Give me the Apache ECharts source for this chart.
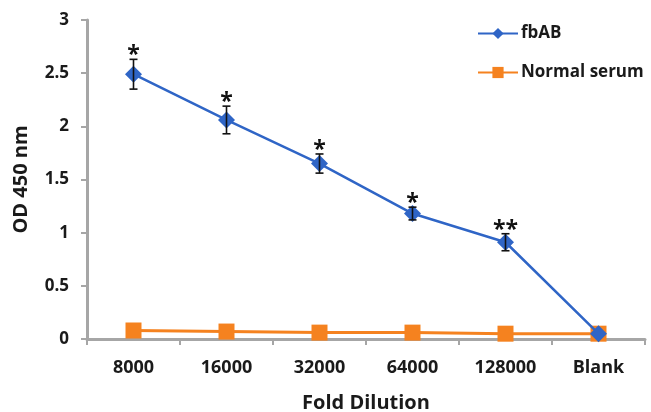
<!DOCTYPE html>
<html>
<head>
<meta charset="utf-8">
<script src="https://cdn.jsdelivr.net/npm/echarts@6/dist/echarts.min.js"></script>
<style>
  html, body { margin: 0; padding: 0; background: #fff; }
  #chart { width: 651px; height: 412px; }
</style>
</head>
<body>
<div id="chart"></div>
<script>
const categories = ["8000", "16000", "32000", "64000", "128000", "Blank"];
const fbAB = [2.49, 2.06, 1.65, 1.18, 0.91, 0.05];
const fbABErr = [0.14, 0.13, 0.09, 0.06, 0.08, 0];
const normalSerum = [0.08, 0.07, 0.06, 0.06, 0.05, 0.05];
const stars = ["*", "*", "*", "*", "**", ""];

const fontFamily = "'Open Sans', sans-serif";
const textColor = "#1a1a1a";
const axisColor = "#a6a6a6";
const blue = "#2f65c6";
const orange = "#f5821f";

const errData = categories.map((c, i) => [i, fbAB[i], fbABErr[i]]);

const mychart = echarts.init(document.getElementById("chart"));

mychart.setOption({
  animation: false,
  grid: { left: 87, right: 6, top: 20, bottom: 73, containLabel: false, outerBoundsMode: "none" },
  legend: {
    orient: "vertical",
    left: 472,
    top: 20,
    itemWidth: 40,
    itemHeight: 14,
    itemGap: 22,
    data: ["fbAB", "Normal serum"],
    textStyle: { fontFamily, fontSize: 17, fontWeight: "bold", color: textColor, padding: [0, 0, 0, -2] }
  },
  xAxis: {
    type: "category",
    data: categories,
    boundaryGap: true,
    name: "Fold Dilution",
    nameLocation: "middle",
    nameGap: 54,
    nameTextStyle: { fontFamily, fontSize: 20, fontWeight: "bold", color: textColor },
    axisLine: { lineStyle: { color: axisColor, width: 3 } },
    axisTick: { show: true, length: 6, lineStyle: { color: axisColor, width: 2 } },
    axisLabel: { fontFamily, fontSize: 18, fontWeight: "bold", color: textColor, margin: 20 }
  },
  yAxis: {
    type: "value",
    min: 0,
    max: 3,
    interval: 0.5,
    name: "OD 450 nm",
    nameLocation: "middle",
    nameGap: 56,
    nameTextStyle: { fontFamily, fontSize: 20, fontWeight: "bold", color: textColor },
    splitLine: { show: false },
    axisLine: { show: true, lineStyle: { color: axisColor, width: 3 } },
    axisTick: { show: true, length: 6, lineStyle: { color: axisColor, width: 2 } },
    axisLabel: {
      fontFamily, fontSize: 17, fontWeight: "bold", color: textColor, margin: 18,
      formatter: v => String(v)
    }
  },
  series: [
    {
      name: "Normal serum",
      type: "line",
      data: normalSerum,
      symbol: "rect",
      symbolSize: 16,
      color: orange,
      lineStyle: { color: orange, width: 3 },
      itemStyle: { color: orange },
      z: 2
    },
    {
      name: "fbAB",
      type: "line",
      data: fbAB,
      symbol: "diamond",
      symbolSize: 17,
      color: blue,
      lineStyle: { color: blue, width: 2.5 },
      itemStyle: { color: blue },
      z: 3
    },
    {
      name: "err",
      type: "custom",
      data: errData,
      z: 4,
      renderItem: function (params, api) {
        const i = api.value(0);
        const v = api.value(1);
        const e = api.value(2);
        const star = stars[params.dataIndex];
        const top = api.coord([i, v + e]);
        const bot = api.coord([i, v - e]);
        const children = [];
        const style = { stroke: "#111", lineWidth: 1.6 };
        if (e > 0) {
          children.push(
            { type: "line", shape: { x1: top[0], y1: top[1], x2: bot[0], y2: bot[1] }, style },
            { type: "line", shape: { x1: top[0] - 4, y1: top[1], x2: top[0] + 4, y2: top[1] }, style },
            { type: "line", shape: { x1: bot[0] - 4, y1: bot[1], x2: bot[0] + 4, y2: bot[1] }, style }
          );
        }
        if (star) {
          children.push({
            type: "text",
            style: {
              text: star,
              x: top[0],
              y: top[1] + 8,
              align: "center",
              verticalAlign: "bottom",
              font: "bold 23px " + fontFamily,
              fill: "#111"
            }
          });
        }
        return { type: "group", children };
      }
    }
  ]
});
</script>
</body>
</html>
